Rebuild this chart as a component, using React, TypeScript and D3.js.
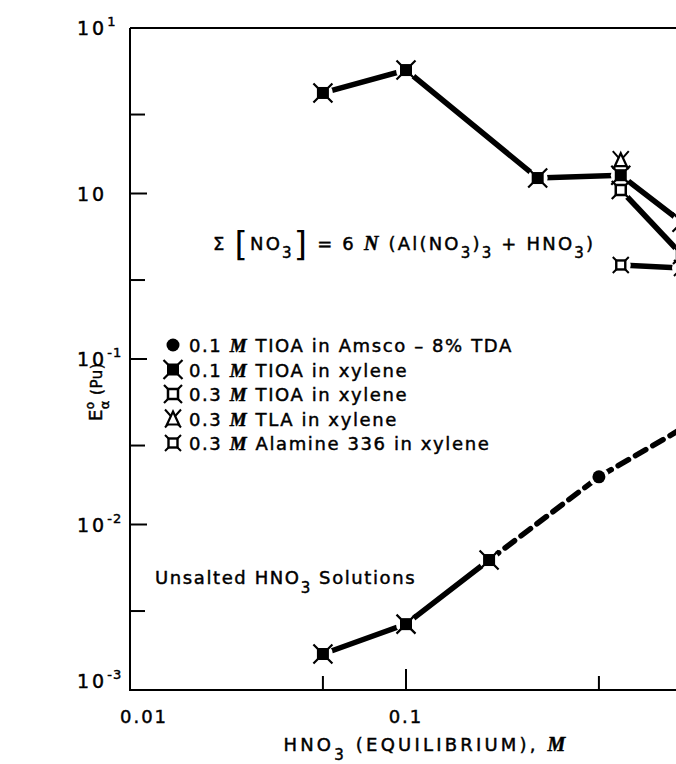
import React from "react";
import * as d3 from "d3";

const W = 676;
const H = 764;

// salted runs, Σ[NO3] = 6 N
const hno3Salted = [0.05, 0.1, 0.3, 0.6, 1.0];
const eTioa01Xylene = [4.05, 5.57, 1.24, 1.29, 0.67];
const hno3Tla = [0.6];
const eTla03 = [1.59];
const hno3Tioa03 = [0.6, 1.0];
const eTioa03Xylene = [1.05, 0.425];
const hno3Alamine = [0.6, 1.0];
const eAlamine336 = [0.37, 0.355];

// unsalted HNO3
const hno3Unsalted = [0.05, 0.1, 0.2];
const eUnsalted = [0.00165, 0.0025, 0.0061];
const hno3Amsco = [0.5];
const eAmsco = [0.0194];
const hno3Dashed = [0.2, 0.5, 1.0];
const eDashed = [0.0061, 0.0194, 0.038];

const yMajor = [10, 1, 0.1, 0.01, 0.001];
const yLabelSup = ["1", "", "-1", "-2", "-3"];
const yMinor = [3, 0.3, 0.03, 0.003];
const xMajor = [0.01, 0.1];
const xLabels = ["0.01", "0.1"];
const xMinor = [0.05, 0.5];

const legendKinds = ["circle", "filled", "open", "tla", "alamine"];
const legendConc = ["0.1", "0.1", "0.3", "0.3", "0.3"];
const legendRest = [
  "TIOA in Amsco \u2013 8% TDA",
  "TIOA in xylene",
  "TIOA in xylene",
  "TLA in xylene",
  "Alamine 336 in xylene",
];

const FONT = "'DejaVu Sans', sans-serif";
const SERIF = "'Liberation Serif', serif";

const Marker = ({ kind, cx, cy }: { kind: string; cx: number; cy: number }) => {
  const spikes = (a: number, b: number) =>
    `M${-a},${-a}L${-b},${-b}M${a},${-a}L${b},${-b}M${-a},${a}L${-b},${b}M${a},${a}L${b},${b}`;
  return (
    <g transform={`translate(${cx},${cy})`}>
      {kind === "circle" && <circle r={6.5} fill="#000" />}
      {kind === "filled" && (
        <>
          <rect x={-6} y={-6} width={12} height={12} fill="#000" />
          <path d={spikes(5, 9.5)} stroke="#000" strokeWidth={2.2} />
        </>
      )}
      {kind === "open" && (
        <>
          <path d={spikes(4, 9)} stroke="#000" strokeWidth={2.2} />
          <rect x={-5} y={-5} width={10} height={10} fill="#fff" stroke="#000" strokeWidth={2.5} />
        </>
      )}
      {kind === "alamine" && (
        <>
          <path d={spikes(3.5, 8)} stroke="#000" strokeWidth={2} />
          <rect x={-4.5} y={-4.5} width={9} height={9} fill="#fff" stroke="#000" strokeWidth={2.4} />
        </>
      )}
      {kind === "tla" && (
        <>
          <path d="M-8,-9L8,9M8,-9L-8,9" stroke="#000" strokeWidth={2} />
          <path d="M0,-7L6,6L-6,6Z" fill="#fff" stroke="#000" strokeWidth={2.2} />
        </>
      )}
    </g>
  );
};

export default function App() {
  const x = d3.scaleLog().domain([0.01, 1]).range([130, 682]);
  const y = d3.scaleLog().domain([0.001, 10]).range([690, 28]);
  const line = d3
    .line<[number, number]>()
    .x((d) => x(d[0]))
    .y((d) => y(d[1]));
  const pts = (xs: number[], ys: number[]) => xs.map((v, i) => [v, ys[i]] as [number, number]);

  const solidLines = [
    pts(hno3Salted, eTioa01Xylene),
    pts(hno3Tioa03, eTioa03Xylene),
    pts(hno3Alamine, eAlamine336),
    pts(hno3Unsalted, eUnsalted),
  ];

  const markers: { kind: string; p: [number, number] }[] = [
    ...pts(hno3Salted, eTioa01Xylene).map((p) => ({ kind: "filled", p })),
    ...pts(hno3Tioa03, eTioa03Xylene).map((p) => ({ kind: "open", p })),
    ...pts(hno3Alamine, eAlamine336).map((p) => ({ kind: "alamine", p })),
    ...pts(hno3Tla, eTla03).map((p) => ({ kind: "tla", p })),
    ...pts(hno3Unsalted, eUnsalted).map((p) => ({ kind: "filled", p })),
    ...pts(hno3Amsco, eAmsco).map((p) => ({ kind: "circle", p })),
  ];

  const x0 = x(0.01);
  const yb = y(0.001);
  const yt = y(10);

  return (
    <svg
      width={W}
      height={H}
      style={{ position: "absolute", left: 0, top: 0, background: "#fff" }}
      fontFamily={FONT}
      fontSize={18}
      letterSpacing={1.6}
    >
      <rect width={W} height={H} fill="#fff" />
      {/* axes */}
      <g stroke="#000" strokeWidth={2} fill="none">
        <path d={`M${x0},${yt}L${x0},${yb}L${W},${yb}`} />
        <path d={`M${x0},${yt}L${W},${yt}`} />
        {yMajor.slice(1, 4).map((v) => (
          <line key={v} x1={x0} x2={x0 + 17} y1={y(v)} y2={y(v)} />
        ))}
        {yMinor.map((v) => (
          <line key={v} x1={x0} x2={x0 + 15} y1={y(v)} y2={y(v)} />
        ))}
        <line x1={x(0.1)} x2={x(0.1)} y1={yb} y2={yb - 21} />
        {xMinor.map((v) => (
          <line key={v} x1={x(v)} x2={x(v)} y1={yb} y2={yb - 14} />
        ))}
      </g>

      <g fill="#000" stroke="#000" strokeWidth={0.45}>
        {/* y tick labels */}
        {yMajor.map((v, i) => (
          <text key={v} x={77} y={y(v) + 7 - (i === 4 ? 9 : 0)} fontSize={19} letterSpacing={3}>
            10
            {yLabelSup[i] && (
              <tspan dy={-9} fontSize={13} letterSpacing={1}>
                {yLabelSup[i]}
              </tspan>
            )}
          </text>
        ))}
        {/* x tick labels */}
        {xMajor.map((v, i) => (
          <text key={v} x={x(v) + (i === 0 ? 14 : 0)} y={723} textAnchor="middle" letterSpacing={2}>
            {xLabels[i]}
          </text>
        ))}
        <text x={426} y={751} textAnchor="middle" letterSpacing={3.2}>
          HNO
          <tspan dy={9} fontSize={15}>3</tspan>
          <tspan dy={-9}>{" (EQUILIBRIUM),  "}</tspan>
          <tspan fontFamily={SERIF} fontStyle="italic" fontWeight="bold" fontSize={20}>M</tspan>
        </text>
        <text transform="translate(102,392) rotate(-90)" textAnchor="middle" letterSpacing={0.5}>
          E
          <tspan dy={-8} fontSize={12}>o</tspan>
          <tspan dx={-8} dy={15} fontSize={13}>{"\u03b1"}</tspan>
          <tspan dy={-7} fontSize={15}>{"  (Pu)"}</tspan>
        </text>

        {/* legend text */}
        {legendKinds.map((k, i) => (
          <text key={k} x={189} y={345 + i * 24.5 + 7}>
            {legendConc[i] + " "}
            <tspan fontFamily={SERIF} fontStyle="italic" fontWeight="bold" fontSize={19}>M</tspan>
            {" " + legendRest[i]}
          </text>
        ))}

        {/* annotations */}
        <text x={213} y={250} letterSpacing={2.2}>
          {"\u03a3 "}
          <tspan fontSize={34} dy={6} strokeWidth={0}>[</tspan>
          <tspan dy={-6}>NO</tspan>
          <tspan dy={8} fontSize={15}>3</tspan>
          <tspan fontSize={34} dy={-2} strokeWidth={0}>]</tspan>
          <tspan dy={-6}>{"  = 6 "}</tspan>
          <tspan fontFamily={SERIF} fontStyle="italic" fontWeight="bold" fontSize={20}>N</tspan>
          <tspan>{" (Al(NO"}</tspan>
          <tspan dy={8} fontSize={15}>3</tspan>
          <tspan dy={-8}>)</tspan>
          <tspan dy={8} fontSize={15}>3</tspan>
          <tspan dy={-8}>{" + HNO"}</tspan>
          <tspan dy={8} fontSize={15}>3</tspan>
          <tspan dy={-8}>)</tspan>
        </text>
        <text x={155} y={584}>
          Unsalted HNO
          <tspan dy={9} fontSize={15}>3</tspan>
          <tspan dy={-9}>{" Solutions"}</tspan>
        </text>
      </g>

      {/* lines */}
      <g fill="none" stroke="#000" strokeWidth={5.5}>
        {solidLines.map((d, i) => (
          <path key={i} d={line(d) || ""} />
        ))}
        <path d={line(pts(hno3Dashed, eDashed)) || ""} strokeDasharray="12 8" strokeLinecap="round" />
      </g>

      {/* white gaps round the points, then the points */}
      {markers.map((m, i) => (
        <circle key={"h" + i} cx={x(m.p[0])} cy={y(m.p[1])} r={10} fill="#fff" />
      ))}
      {markers.map((m, i) => (
        <Marker key={"m" + i} kind={m.kind} cx={x(m.p[0])} cy={y(m.p[1])} />
      ))}

      {/* legend symbols */}
      {legendKinds.map((k, i) => (
        <Marker key={k} kind={k} cx={173} cy={345 + i * 24.5} />
      ))}
    </svg>
  );
}
